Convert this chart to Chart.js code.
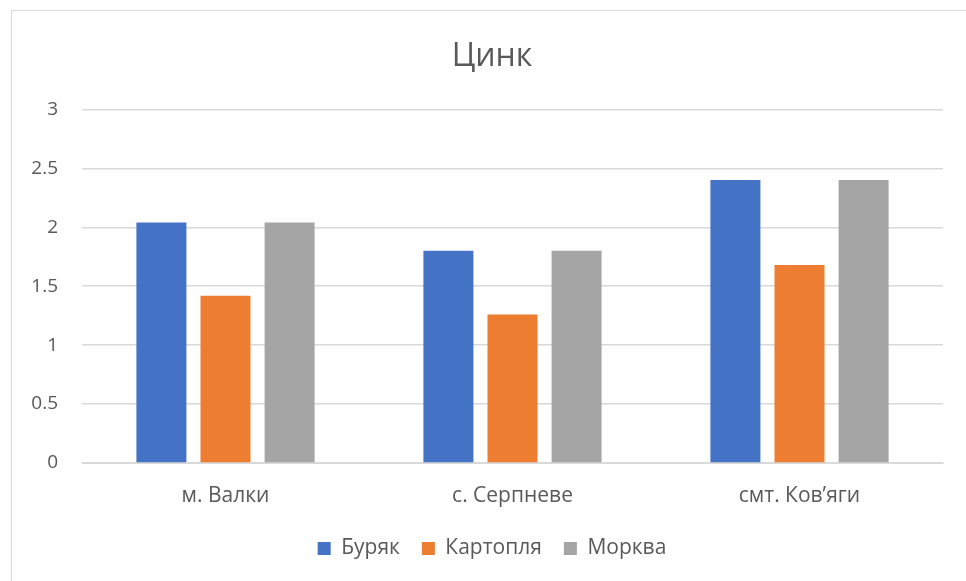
<!DOCTYPE html>
<html>
<head>
<meta charset="utf-8">
<script src="https://cdn.jsdelivr.net/npm/chart.js@4.4.0/dist/chart.umd.min.js"></script>
<style>
    html, body { margin: 0; padding: 0; background: #ffffff; }
    #wrap { position: relative; width: 966px; height: 581px; overflow: hidden; }
    #frame { position: absolute; left: 11px; top: 10px; width: 1000px; height: 600px; border: 1px solid #d9d9d9; box-sizing: border-box; }
    #chartCanvas { position: absolute; left: 0; top: 0; }
</style>
</head>
<body>
<div id="wrap">
    <div id="frame"></div>
    <!-- le graphique d'origine est plus large que la capture : canvas élargi -->
    <canvas id="chartCanvas" width="984" height="581"></canvas>
</div>
<script>
// Données du graphique
const categories = ['м. Валки', 'с. Серпневе', 'смт. Ков’яги'];
const seriesNames = ['Буряк', 'Картопля', 'Морква'];
const buryak = [2.04, 1.80, 2.40];
const kartoplya = [1.42, 1.26, 1.68];
const morkva = [2.04, 1.80, 2.40];
const yTicks = [0, 0.5, 1, 1.5, 2, 2.5, 3];
const seriesColors = ['#4472C4', '#ED7D31', '#A5A5A5'];

const textColor = '#595959';
const fontFamily = "'Open Sans', 'Liberation Sans', sans-serif";

function createZincChart() {
    const canvas = document.getElementById('chartCanvas');
    const ctx = canvas.getContext('2d');

    const values = [buryak, kartoplya, morkva];
    const datasets = seriesNames.map((name, i) => ({
        label: name,
        data: values[i],
        backgroundColor: seriesColors[i],
        borderWidth: 0,
        barPercentage: 0.78,
        categoryPercentage: 0.67
    }));

    return new Chart(ctx, {
        type: 'bar',
        data: { labels: categories, datasets: datasets },
        options: {
            responsive: false,
            animation: false,
            layout: { padding: { left: 0, right: 0, top: 0, bottom: 12 } },
            plugins: {
                title: {
                    display: true,
                    text: 'Цинк',
                    color: textColor,
                    font: { family: fontFamily, size: 32, weight: 'normal' },
                    padding: { top: 38, bottom: 33 }
                },
                legend: {
                    position: 'bottom',
                    labels: {
                        color: textColor,
                        font: { family: fontFamily, size: 21 },
                        boxWidth: 13,
                        boxHeight: 13,
                        padding: 22
                    }
                },
                tooltip: { enabled: false }
            },
            scales: {
                x: {
                    afterFit: (scale) => { scale.height = 53; },
                    grid: { display: false, drawTicks: false },
                    border: { display: true, color: '#d9d9d9', width: 1 },
                    ticks: {
                        color: textColor,
                        font: { family: fontFamily, size: 21 },
                        padding: 20
                    }
                },
                y: {
                    min: 0,
                    max: 3,
                    afterFit: (scale) => { scale.width = 82; },
                    afterBuildTicks: (scale) => { scale.ticks = yTicks.map(v => ({ value: v })); },
                    grid: { color: '#d9d9d9', lineWidth: 1.5, drawTicks: false },
                    border: { display: false },
                    ticks: {
                        color: textColor,
                        font: { family: fontFamily, size: 19 },
                        padding: 24,
                        callback: (v) => String(v)
                    }
                },
                // axe vide à droite : réserve la marge droite du graphique
                yRight: {
                    position: 'right',
                    display: true,
                    afterFit: (scale) => { scale.width = 41; },
                    grid: { display: false, drawTicks: false },
                    border: { display: false },
                    ticks: { display: false }
                }
            }
        }
    });
}

window.zincChart = createZincChart();
</script>
</body>
</html>
